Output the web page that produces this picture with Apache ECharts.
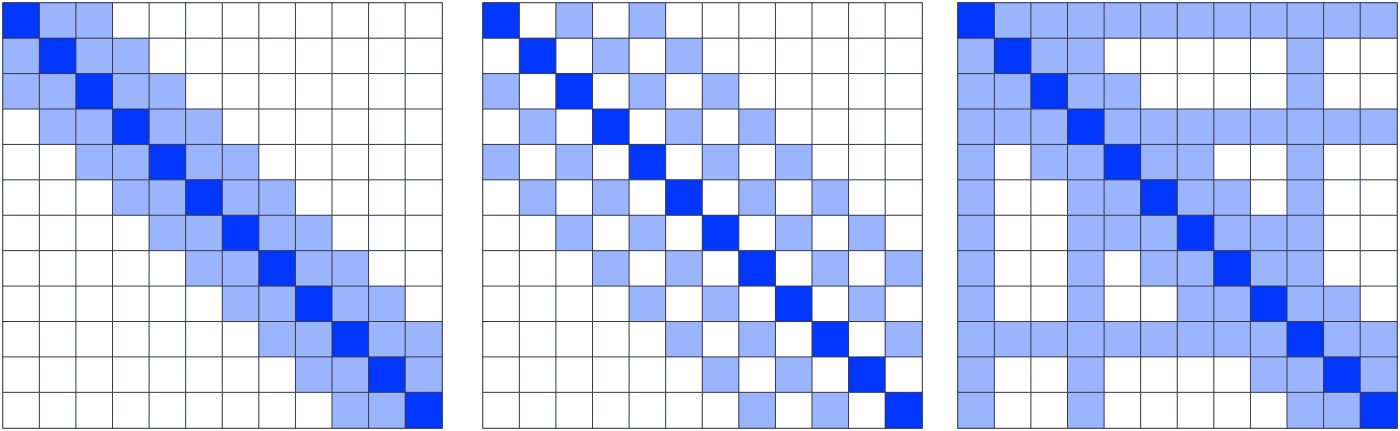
<!DOCTYPE html>
<html>
<head>
<meta charset="utf-8">
<script src="https://cdn.jsdelivr.net/npm/echarts@6/dist/echarts.min.js"></script>
<style>html,body{margin:0;padding:0;background:#fff;}#c{width:1400px;height:431px;}</style>
</head>
<body>
<div id="c"></div>
<script>
// Masks: D = self (diagonal), L = attended, . = not attended
const indices = ['0','1','2','3','4','5','6','7','8','9','10','11'];
const slidingWindow = [
  "DLL.........",
  "LDLL........",
  "LLDLL.......",
  ".LLDLL......",
  "..LLDLL.....",
  "...LLDLL....",
  "....LLDLL...",
  ".....LLDLL..",
  "......LLDLL.",
  ".......LLDLL",
  "........LLDL",
  ".........LLD"
];
const dilatedWindow = [
  "D.L.L.......",
  ".D.L.L......",
  "L.D.L.L.....",
  ".L.D.L.L....",
  "L.L.D.L.L...",
  ".L.L.D.L.L..",
  "..L.L.D.L.L.",
  "...L.L.D.L.L",
  "....L.L.D.L.",
  ".....L.L.D.L",
  "......L.L.D.",
  ".......L.L.D"
];
const globalWindow = [
  "DLLLLLLLLLLL",
  "LDLL.....L..",
  "LLDLL....L..",
  "LLLDLLLLLLLL",
  "L.LLDLL..L..",
  "L..LLDLL.L..",
  "L..LLLDLLL..",
  "L..L.LLDLL..",
  "L..L..LLDLL.",
  "LLLLLLLLLDLL",
  "L..L....LLDL",
  "L..L.....LLD"
];
const masks = [slidingWindow, dilatedWindow, globalWindow];
const codeValue = {'.':0,'L':1,'D':2};

const gridLefts = [3, 483, 958];
const grids = [], xAxes = [], yAxes = [], series = [];
masks.forEach((m, k) => {
  grids.push({left: gridLefts[k], top: 3, width: 439, height: 425, show: true, borderColor: '#999', borderWidth: 2, backgroundColor: '#fff'});
  xAxes.push({type: 'category', data: indices, gridIndex: k, show: false});
  yAxes.push({type: 'category', data: indices, gridIndex: k, show: false, inverse: true});
  const data = [];
  m.forEach((row, i) => {
    row.split('').forEach((ch, j) => data.push([j, i, codeValue[ch]]));
  });
  series.push({
    type: 'heatmap', xAxisIndex: k, yAxisIndex: k, data: data,
    itemStyle: {borderColor: '#383a52', borderWidth: 1},
    emphasis: {disabled: true}, animation: false
  });
});

const chart = echarts.init(document.getElementById('c'));
chart.setOption({
  animation: false,
  grid: grids, xAxis: xAxes, yAxis: yAxes,
  visualMap: {
    type: 'piecewise', show: false, seriesIndex: [0,1,2], dimension: 2,
    pieces: [
      {value: 0, color: '#ffffff'},
      {value: 1, color: '#9ab4fd'},
      {value: 2, color: '#0037ff'}
    ]
  },
  series: series
});
</script>
</body>
</html>
